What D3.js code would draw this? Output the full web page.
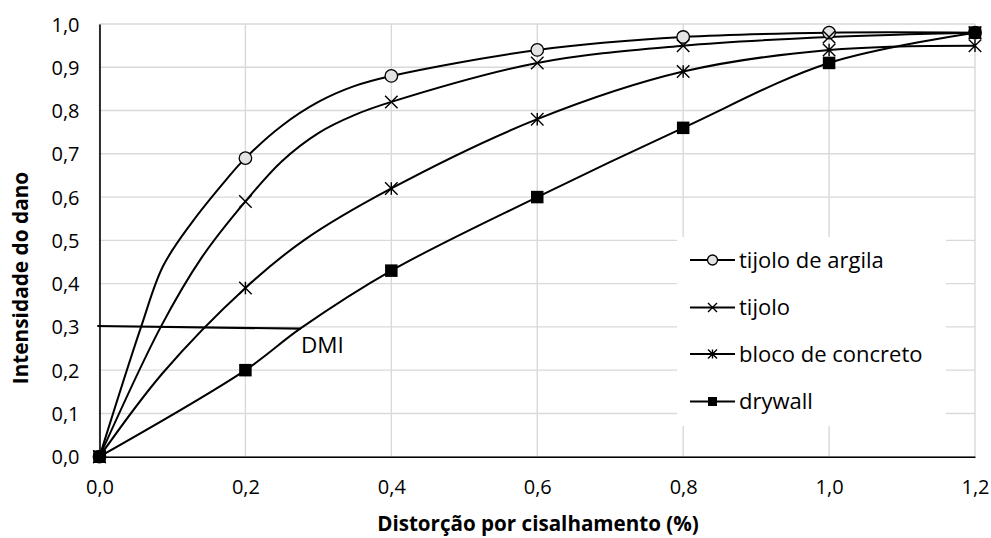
<!DOCTYPE html>
<html>
<head>
<meta charset="utf-8">
<script src="https://cdn.jsdelivr.net/npm/d3@7"></script>
<style>
  html, body { margin: 0; padding: 0; background: #fff; }
  svg { display: block; font-family: "Open Sans", "Liberation Sans", sans-serif; }
</style>
</head>
<body>
<svg id="chart" width="991" height="538"></svg>
<script>
// ---------- data ----------
const seriesNames = ["tijolo de argila", "tijolo", "bloco de concreto", "drywall"];
const markerShapes = ["circle", "x", "star", "square"];
const markerX = [0, 0.2, 0.4, 0.6, 0.8, 1.0, 1.2];
const argilaY  = [0, 0.69, 0.88, 0.94, 0.97, 0.98, 0.98];
const tijoloY  = [0, 0.59, 0.82, 0.91, 0.95, 0.97, 0.98];
const blocoY   = [0, 0.39, 0.62, 0.78, 0.89, 0.94, 0.95];
const drywallY = [0, 0.20, 0.43, 0.60, 0.76, 0.91, 0.98];
// unmarked points
const argilaCurveX  = [0.057, 0.087, 0.126, 0.1735, 0.25, 0.30, 0.35];
const argilaCurveY  = [0.30, 0.44, 0.54, 0.64, 0.765, 0.82, 0.857];
const tijoloCurveX  = [0.084, 0.14, 0.25, 0.30, 0.35];
const tijoloCurveY  = [0.30, 0.46, 0.683, 0.748, 0.79];
const blocoCurveX   = [0.087, 0.28];
const blocoCurveY   = [0.194, 0.50];
const drywallCurveX = [0.276];
const drywallCurveY = [0.297];
const dmiX = [-0.003, 0.276];
const dmiY = [0.302, 0.296];
const dmiLabel = "DMI";
const xTicks = [0, 0.2, 0.4, 0.6, 0.8, 1.0, 1.2];
const yTicks = [0, 0.1, 0.2, 0.3, 0.4, 0.5, 0.6, 0.7, 0.8, 0.9, 1.0];
const xTitle = "Distorção por cisalhamento (%)";
const yTitle = "Intensidade do dano";

const markerYs = [argilaY, tijoloY, blocoY, drywallY];
const curveXs = [argilaCurveX, tijoloCurveX, blocoCurveX, drywallCurveX];
const curveYs = [argilaCurveY, tijoloCurveY, blocoCurveY, drywallCurveY];

// ---------- layout ----------
const svg = d3.select("#chart");
const x = d3.scaleLinear().domain([0, 1.2]).range([99.5, 975]);
const y = d3.scaleLinear().domain([0, 1.0]).range([456.7, 24]);
const fmt = v => d3.format(".1f")(v).replace(".", ",");
const gridColor = "#d9d9d9";

// gridlines
svg.append("g").selectAll("line").data(yTicks).join("line")
  .attr("x1", x(0)).attr("x2", x(1.2))
  .attr("y1", d => y(d)).attr("y2", d => y(d))
  .attr("stroke", gridColor).attr("stroke-width", 1.4);
svg.append("g").selectAll("line").data(xTicks).join("line")
  .attr("x1", d => x(d)).attr("x2", d => x(d))
  .attr("y1", y(0)).attr("y2", y(1))
  .attr("stroke", gridColor).attr("stroke-width", 1.4);

// legend background (covers gridlines)
const lgX = 677, lgY = 237, lgW = 269, lgH = 189;
svg.append("rect").attr("x", lgX).attr("y", lgY).attr("width", lgW).attr("height", lgH)
  .attr("fill", "#fff");

// axes lines (no ticks)
const xAxis = d3.axisBottom(x).tickValues(xTicks).tickFormat(fmt).tickSize(0).tickPadding(0);
const yAxis = d3.axisLeft(y).tickValues(yTicks).tickFormat(fmt).tickSize(0).tickPadding(0);
const gx = svg.append("g").attr("transform", `translate(0,${y(0)})`).call(xAxis);
const gy = svg.append("g").attr("transform", `translate(${x(0)},0)`).call(yAxis);
[gx, gy].forEach(g => {
  g.select(".domain").attr("stroke", "#000").attr("stroke-width", 1.6);
  g.selectAll("text").attr("font-family", "Open Sans").attr("font-size", 20).attr("fill", "#000");
});
gx.selectAll("text").attr("dy", null).attr("y", 37);
gy.selectAll("text").attr("dy", "0.35em").attr("x", -20);

// axis titles
svg.append("text").attr("x", 538).attr("y", 531).attr("text-anchor", "middle")
  .attr("font-weight", "bold").attr("font-size", 20.6).text(xTitle);
svg.append("text").attr("transform", "translate(27.5,278) rotate(-90)").attr("text-anchor", "middle")
  .attr("font-weight", "bold").attr("font-size", 20.8).text(yTitle);

// DMI line
const dmiPts = dmiX.map((v, i) => [v, dmiY[i]]);
svg.append("path").attr("d", d3.line().x(d => x(d[0])).y(d => y(d[1]))(dmiPts))
  .attr("fill", "none").attr("stroke", "#000").attr("stroke-width", 2.2);
svg.append("text").attr("x", 301).attr("y", 353).attr("font-size", 22.5).text(dmiLabel);

// curves
const line = d3.line().x(d => x(d[0])).y(d => y(d[1])).curve(d3.curveCatmullRom.alpha(0.5));
const seriesPts = seriesNames.map((n, s) => {
  const pts = markerX.map((v, i) => [v, markerYs[s][i]])
    .concat(curveXs[s].map((v, i) => [v, curveYs[s][i]]));
  pts.sort((a, b) => a[0] - b[0]);
  return pts;
});
seriesNames.forEach((n, s) => {
  svg.append("path").attr("d", line(seriesPts[s]))
    .attr("fill", "none").attr("stroke", "#000").attr("stroke-width", 2);
});

function drawMarker(g, shape, cx, cy, size) {
  const h = size / 2;
  if (shape === "circle") {
    g.append("circle").attr("cx", cx).attr("cy", cy).attr("r", h)
      .attr("fill", "#e3e3e3").attr("stroke", "#000").attr("stroke-width", 1.3);
  } else if (shape === "square") {
    g.append("rect").attr("x", cx - h).attr("y", cy - h).attr("width", size).attr("height", size)
      .attr("fill", "#000");
  } else {
    const p = `M${cx - h},${cy - h}L${cx + h},${cy + h}M${cx - h},${cy + h}L${cx + h},${cy - h}` +
      (shape === "star" ? `M${cx},${cy - h}L${cx},${cy + h}` : "");
    g.append("path").attr("d", p).attr("stroke", "#000").attr("stroke-width", 1.4).attr("fill", "none");
  }
}

seriesNames.forEach((n, s) => {
  const g = svg.append("g");
  markerX.forEach((v, i) => drawMarker(g, markerShapes[s], x(v), y(markerYs[s][i]), 12.5));
});

// legend
const lg = svg.append("g");
const rowY = [260, 307.5, 354, 401.5];
seriesNames.forEach((n, i) => {
  lg.append("line").attr("x1", 690).attr("x2", 735).attr("y1", rowY[i]).attr("y2", rowY[i])
    .attr("stroke", "#000").attr("stroke-width", 2);
  drawMarker(lg, markerShapes[i], 712.5, rowY[i], i === 0 ? 10 : 9);
  lg.append("text").attr("x", 739).attr("y", rowY[i]).attr("dy", "0.35em")
    .attr("font-size", 22).text(n);
});
</script>
</body>
</html>
